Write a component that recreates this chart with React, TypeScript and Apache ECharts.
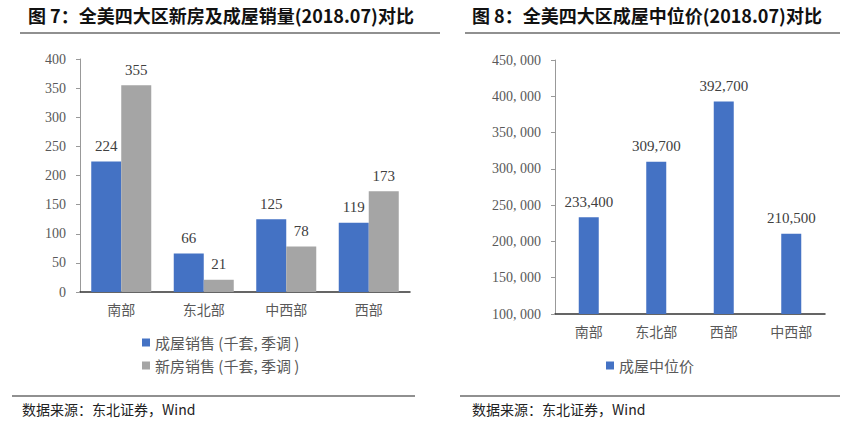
import React, { useEffect, useRef } from "react";
import * as echarts from "echarts";

const leftCategories = ["南部", "东北部", "中西部", "西部"];
const existingSales = [224, 66, 125, 119];
const newSales = [355, 21, 78, 173];
const rightCategories = ["南部", "东北部", "西部", "中西部"];
const medianPrice = [233400, 309700, 392700, 210500];

const leftTitle = "图 7：全美四大区新房及成屋销量(2018.07)对比";
const rightTitle = "图 8：全美四大区成屋中位价(2018.07)对比";
const sourceText = "数据来源：东北证券，Wind";

const CJK = '"Noto Sans CJK SC", sans-serif';
const NUM = '"Liberation Serif", "Times New Roman", serif';
const BLUE = "#4472C4";
const GRAY = "#A5A5A5";
const TXT = "#595959";

const fmt = (v: number) => {
  const s = String(v);
  return s.length > 3 ? s.slice(0, s.length - 3) + ", " + s.slice(s.length - 3) : s;
};

export default function App() {
  const ref = useRef<HTMLDivElement>(null);
  useEffect(() => {
    document.body.style.margin = "0";
    const chart = echarts.init(ref.current!, undefined, { renderer: "svg" });
    chart.setOption({
      animation: false,
      backgroundColor: "#fff",
      grid: [
        { left: 80, width: 330, top: 59, bottom: 131 },
        { left: 555, width: 270, top: 60, bottom: 109 },
      ],
      xAxis: [
        {
          type: "category",
          gridIndex: 0,
          data: leftCategories,
          axisLine: { lineStyle: { color: "#333", width: 1.5 } },
          axisTick: { show: false },
          axisLabel: { color: TXT, fontFamily: CJK, fontSize: 14, margin: 10 },
        },
        {
          type: "category",
          gridIndex: 1,
          data: rightCategories,
          axisLine: { lineStyle: { color: "#333", width: 1.5 } },
          axisTick: { show: false },
          axisLabel: { color: TXT, fontFamily: CJK, fontSize: 14, margin: 10 },
        },
      ],
      yAxis: [
        {
          type: "value",
          gridIndex: 0,
          min: 0,
          max: 400,
          interval: 50,
          axisLine: { show: true, lineStyle: { color: "#999" } },
          axisTick: { show: true, length: 4, lineStyle: { color: "#999" } },
          splitLine: { show: false },
          axisLabel: { color: TXT, fontFamily: NUM, fontSize: 14, margin: 14 },
        },
        {
          type: "value",
          gridIndex: 1,
          min: 100000,
          max: 450000,
          interval: 50000,
          axisLine: { show: true, lineStyle: { color: "#999" } },
          axisTick: { show: true, length: 4, lineStyle: { color: "#999" } },
          splitLine: { show: false },
          axisLabel: {
            color: TXT,
            fontFamily: NUM,
            fontSize: 14,
            margin: 14,
            formatter: (v: number) => fmt(v),
          },
        },
      ],
      legend: [
        {
          data: ["成屋销售 (千套, 季调 )", "新房销售 (千套, 季调 )"],
          orient: "vertical",
          left: 137,
          top: 330,
          itemWidth: 8,
          itemHeight: 8,
          itemGap: 8,
          icon: "rect",
          textStyle: { color: TXT, fontFamily: CJK, fontSize: 15 },
        },
        {
          data: ["成屋中位价"],
          left: 601,
          top: 353,
          itemWidth: 8,
          itemHeight: 8,
          icon: "rect",
          textStyle: { color: TXT, fontFamily: CJK, fontSize: 15 },
        },
      ],
      series: [
        {
          name: "成屋销售 (千套, 季调 )",
          type: "bar",
          xAxisIndex: 0,
          yAxisIndex: 0,
          data: existingSales,
          barWidth: 30,
          barGap: "0%",
          itemStyle: { color: BLUE },
          label: { show: true, position: "top", distance: 8, color: "#404040", fontFamily: NUM, fontSize: 15 },
        },
        {
          name: "新房销售 (千套, 季调 )",
          type: "bar",
          xAxisIndex: 0,
          yAxisIndex: 0,
          data: newSales,
          barWidth: 30,
          barGap: "0%",
          itemStyle: { color: GRAY },
          label: { show: true, position: "top", distance: 8, color: "#404040", fontFamily: NUM, fontSize: 15 },
        },
        {
          name: "成屋中位价",
          type: "bar",
          xAxisIndex: 1,
          yAxisIndex: 1,
          data: medianPrice,
          barWidth: 20,
          itemStyle: { color: BLUE },
          label: {
            show: true,
            position: "top",
            distance: 8,
            color: "#404040",
            fontFamily: NUM,
            fontSize: 15,
            formatter: (p: any) => String(p.value).replace(/(\d{3})$/, ",$1"),
          },
        },
      ],
      graphic: [
        {
          type: "text",
          left: 28,
          top: 6,
          style: { text: leftTitle, fill: "#111", font: `bold 18px ${CJK}` },
        },
        {
          type: "text",
          left: 472,
          top: 6,
          style: { text: rightTitle, fill: "#111", font: `bold 18px ${CJK}` },
        },
        { type: "line", shape: { x1: 20, y1: 33, x2: 440, y2: 33 }, style: { stroke: "#222", lineWidth: 1.2 } },
        { type: "line", shape: { x1: 465, y1: 33, x2: 840, y2: 33 }, style: { stroke: "#222", lineWidth: 1.2 } },
        { type: "line", shape: { x1: 12, y1: 396, x2: 415, y2: 396 }, style: { stroke: "#222", lineWidth: 1.2 } },
        { type: "line", shape: { x1: 460, y1: 396, x2: 840, y2: 396 }, style: { stroke: "#222", lineWidth: 1.2 } },
        {
          type: "text",
          left: 22,
          top: 402,
          style: { text: sourceText, fill: "#222", font: `14px ${CJK}` },
        },
        {
          type: "text",
          left: 472,
          top: 402,
          style: { text: sourceText, fill: "#222", font: `14px ${CJK}` },
        },
      ],
    });
    return () => chart.dispose();
  }, []);
  return <div ref={ref} style={{ width: 850, height: 423 }} />;
}
